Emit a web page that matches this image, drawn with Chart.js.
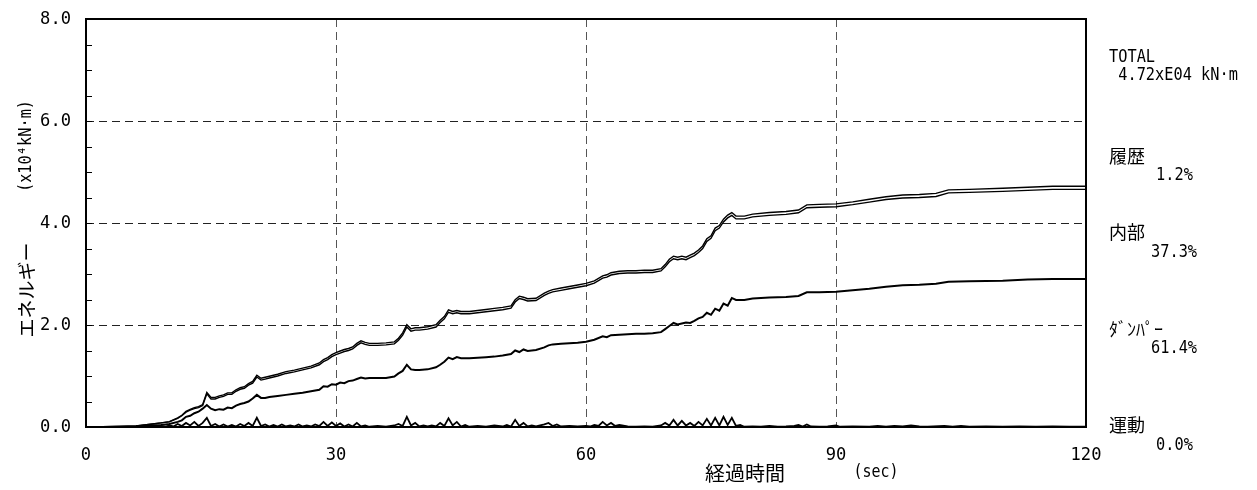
<!DOCTYPE html>
<html>
<head>
<meta charset="utf-8">
<script src="https://cdn.jsdelivr.net/npm/chart.js@4.4.1/dist/chart.umd.min.js"></script>
<style>
  body { margin: 0; background: #fff; }
  canvas { display: block; }
</style>
</head>
<body>
<canvas id="grafico" width="1257" height="490"></canvas>
<script>
// time grid (sec) of the cumulative energy curves
const tMain = [
  0, 2, 4, 6, 8, 9, 10, 11, 11.5, 12,
  12.5, 13, 13.5, 14, 14.5, 15, 15.5, 16, 16.5, 17,
  17.5, 18, 18.5, 19, 19.5, 20, 20.5, 21, 21.5, 22,
  23, 24, 25, 26, 27, 28, 28.5, 29, 29.5, 30,
  30.5, 31, 31.5, 32, 32.5, 33, 33.5, 34, 35, 36,
  37, 37.5, 38, 38.5, 39, 39.5, 40, 41, 42, 42.5,
  43, 43.5, 44, 44.5, 45, 46, 47, 48, 49, 50,
  51, 51.5, 52, 52.5, 53, 54, 55, 55.5, 56, 57,
  58, 59, 60, 61, 62, 62.5, 63, 64, 65, 66,
  67, 68, 69, 69.5, 70, 70.5, 71, 71.5, 72, 72.5,
  73, 73.5, 74, 74.5, 75, 75.5, 76, 76.5, 77, 77.5,
  78, 79, 80, 82, 84, 85.5, 86.5, 88, 90, 92,
  94, 96, 98, 100, 102, 103.5, 106, 110, 113, 116,
  120
];
// ダンパー (x10^4 kN·m)
const damperLine = [
  0, 0, 0.005, 0.01, 0.03, 0.04, 0.06, 0.10, 0.13, 0.20,
  0.22, 0.27, 0.30, 0.36, 0.43, 0.36, 0.33, 0.35, 0.34, 0.38,
  0.37, 0.42, 0.45, 0.47, 0.50, 0.56, 0.63, 0.57, 0.57, 0.59,
  0.61, 0.63, 0.65, 0.67, 0.70, 0.73, 0.80, 0.79, 0.84, 0.83,
  0.87, 0.86, 0.90, 0.91, 0.94, 0.97, 0.95, 0.96, 0.96, 0.96,
  0.99, 1.05, 1.10, 1.22, 1.13, 1.12, 1.12, 1.13, 1.17, 1.22,
  1.28, 1.36, 1.33, 1.37, 1.35, 1.35, 1.36, 1.37, 1.38, 1.40,
  1.43, 1.50, 1.47, 1.52, 1.49, 1.51, 1.56, 1.60, 1.62, 1.63,
  1.64, 1.65, 1.67, 1.71, 1.78, 1.76, 1.80, 1.81, 1.82, 1.83,
  1.83, 1.84, 1.86, 1.92, 1.98, 2.04, 2.01, 2.03, 2.05, 2.04,
  2.08, 2.13, 2.16, 2.24, 2.20, 2.32, 2.28, 2.42, 2.38, 2.53,
  2.49, 2.49, 2.52, 2.54, 2.55, 2.57, 2.64, 2.64, 2.65, 2.68,
  2.71, 2.75, 2.78, 2.79, 2.81, 2.85, 2.86, 2.87, 2.89, 2.90,
  2.90
];
// ダンパー + 内部
const internalLine = [
  0, 0.005, 0.01, 0.02, 0.06, 0.08, 0.10, 0.17, 0.22, 0.29,
  0.33, 0.36, 0.38, 0.42, 0.65, 0.55, 0.55, 0.58, 0.60, 0.64,
  0.64, 0.70, 0.74, 0.76, 0.82, 0.86, 0.98, 0.92, 0.94, 0.96,
  1.00, 1.05, 1.08, 1.12, 1.16, 1.22, 1.28, 1.32, 1.38, 1.42,
  1.45, 1.48, 1.50, 1.53, 1.60, 1.65, 1.62, 1.60, 1.60, 1.61,
  1.63, 1.70, 1.80, 1.96, 1.88, 1.90, 1.90, 1.92, 1.96, 2.05,
  2.12, 2.25, 2.22, 2.24, 2.22, 2.22, 2.24, 2.26, 2.28, 2.30,
  2.33, 2.45, 2.52, 2.50, 2.47, 2.48, 2.58, 2.62, 2.65, 2.68,
  2.71, 2.74, 2.77, 2.82, 2.92, 2.94, 2.98, 3.01, 3.02, 3.02,
  3.03, 3.03, 3.06, 3.14, 3.24, 3.30, 3.28, 3.30, 3.28, 3.32,
  3.36, 3.42, 3.50, 3.64, 3.70, 3.85, 3.90, 4.02, 4.10, 4.15,
  4.08, 4.08, 4.12, 4.15, 4.17, 4.20, 4.30, 4.31, 4.32, 4.36,
  4.41, 4.46, 4.49, 4.50, 4.52, 4.59, 4.60, 4.62, 4.64, 4.66,
  4.66
];
// 履歴 (added on top of the internal line)
const hystEnergy = [
  0, 0, 0, 0, 0, 0, 0.005, 0.01, 0.01, 0.015,
  0.015, 0.02, 0.02, 0.02, 0.03, 0.03, 0.03, 0.03, 0.03, 0.03,
  0.03, 0.03, 0.03, 0.03, 0.03, 0.035, 0.035, 0.035, 0.035, 0.035,
  0.035, 0.035, 0.035, 0.035, 0.035, 0.035, 0.04, 0.04, 0.04, 0.04,
  0.04, 0.04, 0.04, 0.04, 0.04, 0.04, 0.04, 0.04, 0.04, 0.04,
  0.04, 0.04, 0.045, 0.045, 0.045, 0.045, 0.045, 0.045, 0.045, 0.045,
  0.045, 0.045, 0.045, 0.045, 0.045, 0.045, 0.045, 0.045, 0.045, 0.045,
  0.045, 0.045, 0.045, 0.045, 0.045, 0.045, 0.045, 0.045, 0.045, 0.045,
  0.045, 0.045, 0.045, 0.045, 0.045, 0.045, 0.045, 0.045, 0.045, 0.045,
  0.045, 0.045, 0.045, 0.045, 0.05, 0.05, 0.05, 0.05, 0.05, 0.05,
  0.05, 0.05, 0.05, 0.05, 0.05, 0.05, 0.05, 0.055, 0.055, 0.055,
  0.055, 0.055, 0.055, 0.055, 0.055, 0.055, 0.055, 0.055, 0.055, 0.055,
  0.055, 0.055, 0.06, 0.06, 0.06, 0.06, 0.06, 0.06, 0.06, 0.06,
  0.06
];

// 運動 (kinetic energy)
const tKin = [
  0, 4, 8, 9, 9.5, 10, 10.5, 11, 11.5, 12,
  12.5, 13, 13.5, 14, 14.5, 15, 15.5, 16, 16.5, 17,
  17.5, 18, 18.5, 19, 19.5, 20, 20.5, 21, 21.5, 22,
  22.5, 23, 23.5, 24, 24.5, 25, 25.5, 26, 26.5, 27,
  27.5, 28, 28.5, 29, 29.5, 30, 30.5, 31, 31.5, 32,
  32.5, 33, 33.5, 34, 35, 36, 37, 37.5, 38, 38.5,
  39, 39.5, 40, 40.5, 41, 41.5, 42, 42.5, 43, 43.5,
  44, 44.5, 45, 45.5, 46, 47, 48, 49, 50, 50.5,
  51, 51.5, 52, 52.5, 53, 53.5, 54, 55, 55.5, 56,
  56.5, 57, 58, 59, 60, 60.5, 61, 61.5, 62, 62.5,
  63, 63.5, 64, 65, 66, 67, 68, 69, 69.5, 70,
  70.5, 71, 71.5, 72, 72.5, 73, 73.5, 74, 74.5, 75,
  75.5, 76, 76.5, 77, 77.5, 78, 78.5, 79, 80, 81,
  82, 83, 84, 85, 85.5, 86, 86.5, 87, 88, 89,
  90, 90.5, 92, 94, 95, 96, 97, 98, 99, 100,
  101, 103, 104, 105, 106, 108, 110, 112, 114, 116,
  118, 120
];
const kinetic = [
  0, 0, 0.005, 0.02, 0.005, 0.03, 0.01, 0.06, 0.02, 0.08,
  0.03, 0.10, 0.02, 0.08, 0.18, 0.02, 0.06, 0.01, 0.05, 0.01,
  0.04, 0.01, 0.06, 0.02, 0.08, 0.02, 0.18, 0.02, 0.05, 0.01,
  0.04, 0.01, 0.05, 0.01, 0.03, 0.01, 0.05, 0.01, 0.03, 0.01,
  0.05, 0.02, 0.10, 0.02, 0.09, 0.02, 0.07, 0.01, 0.05, 0.01,
  0.08, 0.01, 0.03, 0.005, 0.02, 0.005, 0.03, 0.06, 0.02, 0.20,
  0.03, 0.08, 0.01, 0.03, 0.01, 0.03, 0.01, 0.08, 0.02, 0.17,
  0.03, 0.10, 0.01, 0.04, 0.005, 0.02, 0.005, 0.03, 0.01, 0.04,
  0.01, 0.14, 0.02, 0.08, 0.01, 0.03, 0.01, 0.05, 0.08, 0.02,
  0.05, 0.01, 0.02, 0.01, 0.02, 0.01, 0.04, 0.02, 0.10, 0.03,
  0.08, 0.02, 0.04, 0.01, 0.005, 0.01, 0.005, 0.03, 0.08, 0.03,
  0.14, 0.03, 0.12, 0.03, 0.08, 0.02, 0.10, 0.03, 0.16, 0.03,
  0.18, 0.03, 0.20, 0.04, 0.18, 0.02, 0.04, 0.005, 0.01, 0.005,
  0.02, 0.005, 0.01, 0.02, 0.04, 0.01, 0.05, 0.01, 0.005, 0.01,
  0.03, 0.005, 0.01, 0.005, 0.02, 0.005, 0.02, 0.01, 0.03, 0.01,
  0.005, 0.02, 0.005, 0.02, 0.005, 0.01, 0.005, 0.01, 0.005, 0.01,
  0.005, 0.005
];

const yMinorTicks = [0.5, 1, 1.5, 2, 2.5, 3, 3.5, 4, 4.5, 5, 5.5, 6, 6.5, 7, 7.5];

const totalLabel = ['TOTAL', ' 4.72xE04 kN·m'];
const shareNames = ['履歴', '内部', 'ﾀﾞﾝﾊﾟｰ', '運動'];
const sharePercents = ['1.2%', '37.3%', '61.4%', '0.0%'];

const monoFont = "'DejaVu Sans Mono', 'Noto Sans CJK JP', monospace";
const jpFont = "'Noto Sans CJK JP', sans-serif";

const pontos = (ts, vs) => ts.map((t, i) => ({ x: t, y: vs[i] }));
const totalLine = internalLine.map((v, i) => v + hystEnergy[i]);

const linha = (data, width) => ({
  data,
  borderColor: '#000',
  borderWidth: width,
  pointRadius: 0,
  tension: 0,
  fill: false,
});

// narrow half-width text, close to the gothic font of the original
const textoEstreito = (ctx, str, x, y, align, size, sx) => {
  ctx.save();
  ctx.translate(x, y);
  ctx.scale(sx, 1);
  ctx.font = size + 'px ' + monoFont;
  ctx.textAlign = align;
  ctx.fillText(str, 0, 0);
  ctx.restore();
};

const textos = {
  id: 'textos',
  afterDraw(chart) {
    const { ctx, chartArea: a, scales: { x, y } } = chart;
    ctx.save();

    // minor ticks inside the left axis
    ctx.strokeStyle = '#000';
    ctx.lineWidth = 1;
    yMinorTicks.forEach((v) => {
      const py = Math.round(y.getPixelForValue(v)) + 0.5;
      ctx.beginPath();
      ctx.moveTo(a.left, py);
      ctx.lineTo(a.left + 6, py);
      ctx.stroke();
    });

    // frame
    ctx.lineWidth = 2;
    ctx.strokeRect(a.left, a.top, a.right - a.left, a.bottom - a.top);

    ctx.fillStyle = '#000';
    ctx.textBaseline = 'middle';

    // tick labels
    y.ticks.forEach((t) => {
      if (t.value % 2 === 0) {
        textoEstreito(ctx, t.value.toFixed(1), a.left - 15, y.getPixelForValue(t.value), 'right', 18, 0.95);
      }
    });
    x.ticks.forEach((t) => {
      textoEstreito(ctx, String(t.value), x.getPixelForValue(t.value), 455, 'center', 18, 0.95);
    });

    // y title
    ctx.textAlign = 'center';
    ctx.save();
    ctx.translate(27, 290);
    ctx.rotate(-Math.PI / 2);
    ctx.font = '19px ' + jpFont;
    ctx.fillText('エネルギー', 0, 0);
    ctx.restore();
    ctx.save();
    ctx.translate(27, 146);
    ctx.rotate(-Math.PI / 2);
    textoEstreito(ctx, '(x10⁴kN·m)', 0, 0, 'center', 17, 0.9);
    ctx.restore();

    // x title
    ctx.font = '20px ' + jpFont;
    ctx.fillText('経過時間', 745, 473);
    textoEstreito(ctx, '(sec)', 876, 473, 'center', 17, 0.88);

    // right side summary
    ctx.textAlign = 'left';
    const lx = a.right + 23;
    textoEstreito(ctx, totalLabel[0], lx, 57, 'left', 18, 0.85);
    textoEstreito(ctx, totalLabel[1], lx, 75, 'left', 18, 0.85);
    const nameY = [156, 232, 329, 425];
    const pctY = [175, 252, 348, 445];
    shareNames.forEach((n, i) => {
      ctx.font = '18px ' + jpFont;
      ctx.textAlign = 'left';
      ctx.fillText(n, lx, nameY[i]);
      const p = sharePercents[i];
      textoEstreito(ctx, p, p.length === 4 ? lx + 47 : lx + 42, pctY[i], 'left', 18, 0.85);
    });

    ctx.restore();
  },
};

const ctx = document.getElementById('grafico');
new Chart(ctx, {
  type: 'line',
  data: {
    datasets: [
      linha(pontos(tKin, kinetic), 1.8),
      linha(pontos(tMain, damperLine), 2),
      linha(pontos(tMain, internalLine), 1.4),
      linha(pontos(tMain, totalLine), 1.4),
    ],
  },
  options: {
    responsive: false,
    animation: false,
    layout: { padding: { top: 19, right: 171, left: 0, bottom: 0 } },
    plugins: {
      legend: { display: false },
      tooltip: { enabled: false },
    },
    scales: {
      x: {
        type: 'linear',
        min: 0,
        max: 120,
        afterFit: (s) => { s.height = 63; },
        ticks: { stepSize: 30, display: false },
        grid: {
          drawTicks: false,
          lineWidth: 1,
          color: (c) => (c.tick && c.tick.value > 0 && c.tick.value < 120 ? '#555' : 'rgba(0,0,0,0)'),
        },
        border: { display: false, dash: [8, 5] },
      },
      y: {
        min: 0,
        max: 8,
        afterFit: (s) => { s.width = 86; },
        ticks: { stepSize: 0.5, autoSkip: false, display: false },
        grid: {
          drawTicks: false,
          lineWidth: 1,
          color: (c) => {
            const v = c.tick ? c.tick.value : 0;
            return v % 2 === 0 && v > 0 && v < 8 ? '#222' : 'rgba(0,0,0,0)';
          },
        },
        border: { display: false, dash: [8, 5] },
      },
    },
  },
  plugins: [textos],
});
</script>
</body>
</html>
